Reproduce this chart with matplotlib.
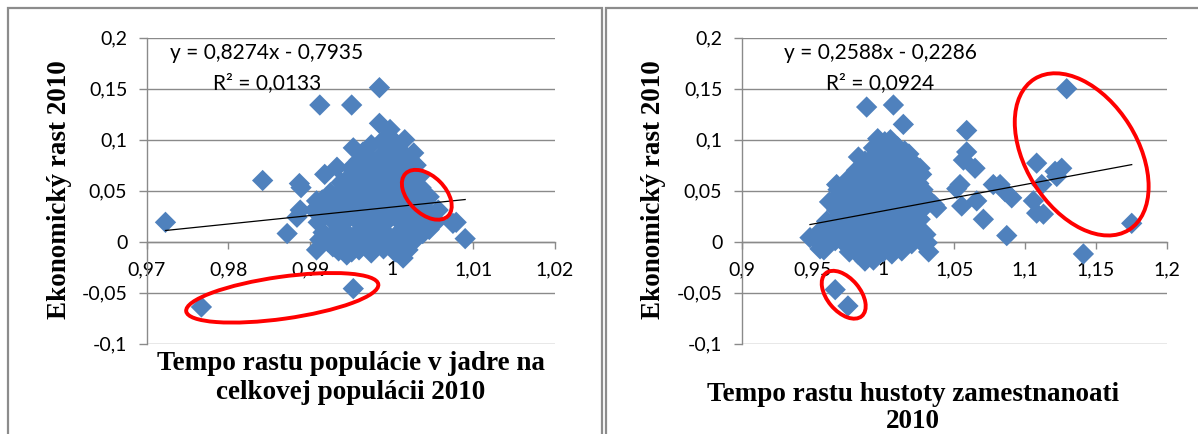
import matplotlib
matplotlib.use("Agg")
import matplotlib.pyplot as plt
import matplotlib.transforms as mtransforms
from matplotlib.patches import Ellipse, Rectangle
import numpy as np

# ---------------- data ----------------
# Left chart: Tempo rastu populácie v jadre (x) vs Ekonomický rast (y)
left_x = [0.9723, 0.9842, 0.9887, 0.9889, 0.9872, 0.9884, 0.9888, 0.9912, 0.9951, 0.9985,
          0.9985, 0.9998, 0.9953, 1.0016, 1.0027, 0.9918, 0.9933, 0.9945, 0.9908, 1.0079,
          1.0090, 1.0057, 1.0038, 0.9908, 0.9945, 1.0014, 0.9953, 0.9767, 1.0036, 1.0046,
          0.9912, 0.9928, 0.9975, 1.0006, 1.0075, 0.9951,
          0.9975, 0.9990, 1.0005, 1.0010, 0.9965,
          0.9960, 0.9972, 0.9988, 1.0002, 1.0018, 1.0030,
          0.9950, 0.9965, 0.9978, 0.9992, 1.0006, 1.0020, 1.0034,
          0.9938, 0.9958, 0.9971, 0.9985, 0.9999, 1.0013, 1.0027,
          0.9925, 0.9940, 0.9955, 0.9968, 0.9982, 0.9995, 1.0008, 1.0022, 1.0033,
          0.9915, 0.9930, 0.9946, 0.9960, 0.9974, 0.9988, 1.0002, 1.0016, 1.0029, 1.0042,
          0.9905, 0.9921, 0.9936, 0.9950, 0.9964, 0.9979, 0.9993, 1.0007, 1.0021, 1.0035, 1.0048,
          0.9910, 0.9926, 0.9941, 0.9957, 0.9970, 0.9984, 0.9998, 1.0012, 1.0026, 1.0040, 1.0055,
          0.9916, 0.9932, 0.9947, 0.9962, 0.9977, 0.9991, 1.0005, 1.0019, 1.0032, 1.0046,
          0.9922, 0.9938, 0.9953, 0.9968, 0.9982, 0.9997, 1.0011, 1.0025,
          0.9935, 0.9960, 0.9975, 0.9990, 1.0004, 1.0020,
          0.9980, 0.9995, 1.0008, 0.9962, 0.9990, 1.0015, 0.9945, 0.9975, 1.0000,
          0.9930, 0.9968, 1.0010, 0.9920, 0.9955, 0.9995, 1.0030, 0.9935, 0.9985, 1.0020]
left_y = [0.019, 0.060, 0.057, 0.053, 0.008, 0.024, 0.031, 0.134, 0.134, 0.151,
          0.116, 0.110, 0.092, 0.100, 0.087, 0.066, 0.073, 0.061, 0.040, 0.019,
          0.003, 0.031, 0.008, -0.008, -0.013, -0.016, -0.046, -0.064, 0.053, 0.044,
          0.002, -0.005, -0.010, -0.010, 0.018, -0.010,
          0.095, 0.100, 0.097, 0.090, 0.088,
          0.080, 0.083, 0.085, 0.082, 0.079, 0.075,
          0.072, 0.070, 0.073, 0.068, 0.071, 0.066, 0.064,
          0.058, 0.060, 0.057, 0.062, 0.058, 0.061, 0.056,
          0.048, 0.050, 0.047, 0.052, 0.049, 0.051, 0.046, 0.050, 0.047,
          0.041, 0.038, 0.042, 0.039, 0.036, 0.041, 0.038, 0.042, 0.037, 0.040,
          0.031, 0.029, 0.033, 0.028, 0.031, 0.027, 0.030, 0.033, 0.028, 0.031, 0.027,
          0.019, 0.022, 0.018, 0.021, 0.017, 0.020, 0.023, 0.018, 0.021, 0.017, 0.020,
          0.009, 0.011, 0.007, 0.012, 0.008, 0.010, 0.006, 0.011, 0.009, 0.012,
          0.000, -0.002, 0.002, -0.003, 0.001, -0.002, 0.002, -0.001,
          -0.009, -0.008, -0.011, -0.007, -0.010, -0.008,
          0.077, 0.092, 0.086, 0.065, 0.075, 0.070, 0.054, 0.063, 0.065,
          0.044, 0.045, 0.055, 0.034, 0.035, 0.044, 0.052, 0.024, 0.025, 0.033]

# Right chart: Tempo rastu hustoty zamestnanosti (x) vs Ekonomický rast (y)
right_x = [0.9882, 1.0071, 1.0141, 0.9824, 1.0588, 1.0588, 1.0565, 1.0647, 1.0541, 1.0518,
           1.0553, 1.0659, 1.0706, 1.0776, 1.0824, 1.0859, 1.0906, 1.0871, 1.1082, 1.1059,
           1.1118, 1.1082, 1.1130, 1.1212, 1.1259, 1.1224, 1.1294, 1.1753, 1.1412, 1.0329,
           1.0376, 1.0259, 0.9482, 0.9553, 0.9600, 0.9660, 0.9750, 0.9670, 0.9620,
           0.996, 1.001, 1.005,
           0.993, 0.998, 1.004, 1.010, 1.015, 1.018,
           0.987, 0.992, 0.999, 1.005, 1.011, 1.017, 1.022,
           0.981, 0.987, 0.994, 1.000, 1.006, 1.012, 1.018, 1.024, 1.027,
           0.975, 0.981, 0.988, 0.994, 1.000, 1.007, 1.013, 1.019, 1.025,
           0.968, 0.974, 0.980, 0.986, 0.992, 0.998, 1.004, 1.010, 1.016, 1.022, 1.028,
           0.966, 0.972, 0.978, 0.984, 0.990, 0.996, 1.002, 1.008, 1.014, 1.020, 1.026, 1.033, 1.036,
           0.967, 0.973, 0.979, 0.985, 0.991, 0.997, 1.003, 1.009, 1.015, 1.021, 1.027,
           0.960, 0.966, 0.972, 0.978, 0.984, 0.990, 0.996, 1.002, 1.008, 1.014, 1.020, 1.026,
           0.955, 0.961, 0.967, 0.973, 0.979, 0.985, 0.991, 0.997, 1.003, 1.009, 1.015, 1.021, 1.027, 1.030,
           0.954, 0.960, 0.966, 0.972, 0.978, 0.984, 0.990, 0.996, 1.002, 1.008, 1.014, 1.020, 1.026, 1.031,
           0.958, 0.976, 0.982, 0.988, 0.994, 1.000, 1.006, 1.013, 1.032,
           0.987, 0.993]
right_y = [0.132, 0.134, 0.115, 0.083, 0.109, 0.088, 0.080, 0.072, 0.056, 0.052,
           0.035, 0.040, 0.022, 0.056, 0.056, 0.049, 0.043, 0.006, 0.077, 0.040,
           0.056, 0.028, 0.027, 0.069, 0.072, 0.064, 0.150, 0.018, -0.012, 0.040,
           0.033, 0.072, 0.004, -0.007, 0.020, -0.047, -0.063, 0.056, 0.039,
           0.101, 0.098, 0.100,
           0.092, 0.089, 0.091, 0.093, 0.089, 0.086,
           0.079, 0.082, 0.080, 0.078, 0.081, 0.079, 0.076,
           0.070, 0.068, 0.071, 0.069, 0.072, 0.068, 0.071, 0.069, 0.066,
           0.061, 0.058, 0.060, 0.062, 0.059, 0.061, 0.058, 0.060, 0.057,
           0.051, 0.049, 0.052, 0.050, 0.048, 0.051, 0.049, 0.052, 0.050, 0.048, 0.051,
           0.041, 0.039, 0.042, 0.040, 0.038, 0.041, 0.039, 0.042, 0.040, 0.038, 0.041, 0.039, 0.036,
           0.031, 0.029, 0.032, 0.030, 0.028, 0.031, 0.029, 0.032, 0.030, 0.028, 0.031,
           0.020, 0.022, 0.019, 0.021, 0.018, 0.020, 0.022, 0.019, 0.021, 0.018, 0.020, 0.022,
           0.010, 0.008, 0.011, 0.009, 0.012, 0.010, 0.008, 0.011, 0.009, 0.012, 0.010, 0.008, 0.011, 0.007,
           0.000, -0.002, 0.001, -0.001, 0.002, 0.000, -0.002, 0.001, -0.001, 0.002, 0.000, -0.002, 0.001, -0.001,
           -0.008, -0.010, -0.012, -0.009, -0.011, -0.010, -0.012, -0.009, -0.010,
           -0.019, -0.018]

# Trendline coefficients (as printed on the chart)
left_slope, left_intercept = 0.8274, -0.7935
right_slope, right_intercept = 0.2588, -0.2286
left_eq = "y = 0,8274x - 0,7935"
left_r2 = "R² = 0,0133"
right_eq = "y = 0,2588x - 0,2286"
right_r2 = "R² = 0,0924"

y_ticks = [-0.1, -0.05, 0.0, 0.05, 0.1, 0.15, 0.2]
y_ticklabels = ["-0,1", "-0,05", "0", "0,05", "0,1", "0,15", "0,2"]
left_xticks = [0.97, 0.98, 0.99, 1.00, 1.01, 1.02]
left_xticklabels = ["0,97", "0,98", "0,99", "1", "1,01", "1,02"]
right_xticks = [0.9, 0.95, 1.0, 1.05, 1.1, 1.15, 1.2]
right_xticklabels = ["0,9", "0,95", "1", "1,05", "1,1", "1,15", "1,2"]

y_label = "Ekonomický rast 2010"
left_xlabel = "Tempo rastu populácie v jadre na\ncelkovej populácii 2010"
right_xlabel = "Tempo rastu hustoty zamestnanoati\n2010"

# ---------------- figure ----------------
W, H = 1198, 434
fig = plt.figure(figsize=(W / 100, H / 100), dpi=100)
fig.patch.set_facecolor("white")

BLUE = "#4F81BD"
GRID = "#8a8a8a"
TICKFONT = "Lato"
LABELFONT = "Liberation Serif"


def px(x, y):
    return x / W, 1 - y / H


def setup_axes(rect, xlim, xticks, xticklabels):
    ax = fig.add_axes(rect)
    ax.set_xlim(*xlim)
    ax.set_ylim(-0.1, 0.2)
    ax.set_facecolor("none")
    for s in ("top", "right"):
        ax.spines[s].set_visible(False)
    ax.spines["left"].set_color(GRID)
    ax.spines["left"].set_linewidth(1.0)
    ax.spines["bottom"].set_position(("data", 0))
    ax.spines["bottom"].set_color(GRID)
    ax.spines["bottom"].set_linewidth(1.0)
    ax.set_yticks(y_ticks)
    ax.set_yticklabels(y_ticklabels, fontfamily=TICKFONT, fontsize=14)
    ax.set_xticks(xticks)
    ax.set_xticklabels(xticklabels, fontfamily=TICKFONT, fontsize=14)
    ax.tick_params(axis="y", direction="out", length=6, width=1, color=GRID, pad=8)
    ax.tick_params(axis="x", direction="out", length=5, width=1, color=GRID, pad=9)
    ax.yaxis.grid(True, color=GRID, linewidth=1.0)
    ax.set_axisbelow(True)
    return ax


def ellipse_px(ax, cx, cy, w, h, angle):
    # ellipse sized in pixels, centred on a data point
    tr = fig.dpi_scale_trans + mtransforms.ScaledTranslation(cx, cy, ax.transData)
    e = Ellipse((0, 0), w / 100, h / 100, angle=angle, transform=tr,
                fill=False, edgecolor="#FF0000", linewidth=2.8, zorder=5, clip_on=False)
    ax.add_artist(e)


# left axes: x 146.7..555 px, y 37.7..343.7 px
lx0, ly1 = px(146.7, 343.7)
lx1, ly0 = px(555.0, 37.7)
axL = setup_axes([lx0, ly1, lx1 - lx0, ly0 - ly1], (0.97, 1.02), left_xticks, left_xticklabels)
rx0, _ = px(741.7, 0)
rx1, _ = px(1166.7, 0)
axR = setup_axes([rx0, ly1, rx1 - rx0, ly0 - ly1], (0.9, 1.2), right_xticks, right_xticklabels)

for ax, xs, ys, m, b, eq, r2, eqx in (
        (axL, left_x, left_y, left_slope, left_intercept, left_eq, left_r2, 0.2946),
        (axR, right_x, right_y, right_slope, right_intercept, right_eq, right_r2, 0.3254)):
    ax.scatter(xs, ys, marker="D", s=118, color=BLUE, edgecolors="none", zorder=3)
    xa = np.array([min(xs), max(xs)])
    ax.plot(xa, m * xa + b, color="black", linewidth=0.9, zorder=4)
    ax.text(eqx, 0.950, eq, transform=ax.transAxes, ha="center", va="center",
            fontfamily=TICKFONT, fontsize=15, zorder=6)
    ax.text(eqx, 0.852, r2, transform=ax.transAxes, ha="center", va="center",
            fontfamily=TICKFONT, fontsize=15, zorder=6)

# red annotation ellipses
ellipse_px(axL, 1.0043, 0.046, 60, 37, -45)
ellipse_px(axL, 0.9866, -0.055, 194, 42, 8)
ellipse_px(axR, 0.972, -0.052, 56, 33, -50)
ellipse_px(axR, 1.140, 0.0856, 178, 112, -58)

# axis titles
fig.text(*px(59, 190), y_label, rotation=90, ha="center", va="center",
         fontfamily=LABELFONT, fontweight="bold", fontsize=19.5)
fig.text(*px(653, 190), y_label, rotation=90, ha="center", va="center",
         fontfamily=LABELFONT, fontweight="bold", fontsize=19.5)
fig.text(*px(351, 378), left_xlabel, ha="center", va="center", linespacing=1.25,
         fontfamily=LABELFONT, fontweight="bold", fontsize=19.5)
fig.text(*px(913, 408), right_xlabel, ha="center", va="center", linespacing=1.15,
         fontfamily=LABELFONT, fontweight="bold", fontsize=19.5)

# chart frames
for x0, x1 in ((8, 602), (606, 1210)):
    fx0, fy0 = px(x0, 460)
    fx1, fy1 = px(x1, 8)
    fig.add_artist(Rectangle((fx0, fy0), fx1 - fx0, fy1 - fy0, transform=fig.transFigure,
                             fill=False, edgecolor="#8c8c8c", linewidth=1.6, clip_on=False))

fig.savefig("out.png", dpi=100, facecolor="white")
